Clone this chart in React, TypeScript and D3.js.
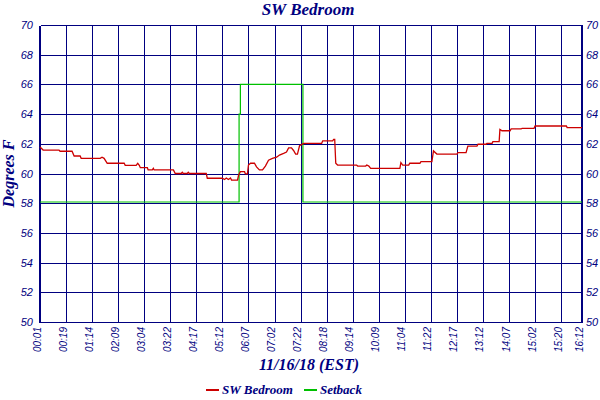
import React, { useEffect, useRef } from 'react';
import * as d3 from 'd3';

// x is in sample units (one gridline every 10 samples, last one short)
const tickSamples = [0, 10, 20, 30, 40, 50, 60, 70, 80, 90, 100, 110, 120, 130, 140, 150, 160, 170, 180, 190, 200, 208];
const tickLabels = [
  '00:01', '00:19', '01:14', '02:09', '03:04', '03:22', '04:17', '05:12', '06:07', '07:02', '07:22',
  '08:18', '09:14', '10:09', '11:04', '11:22', '12:17', '13:12', '14:07', '15:02', '15:20', '16:12',
];
const yTicks = [50, 52, 54, 56, 58, 60, 62, 64, 66, 68, 70];

const bedroomSamples = [
  0, 1.2, 7.3, 7.7, 12.3, 13.1, 15.4, 15.8, 23.1, 23.8, 24.6, 25.8, 32.3, 32.7, 36.9, 37.5, 38.1, 38.5,
  41.2, 41.5, 43.1, 43.5, 43.8, 51.2, 51.9, 54.2, 54.6, 55.0, 56.5, 56.9, 57.3, 63.8, 64.2, 70.0, 70.8,
  71.5, 72.3, 73.1, 73.5, 75.8, 76.2, 76.9, 78.5, 78.8, 79.6, 80.0, 80.8, 82.3, 83.1, 84.2, 85.4, 86.5,
  87.7, 89.2, 90.8, 91.9, 93.5, 94.6, 95.4, 96.5, 97.3, 98.1, 98.8, 99.6, 101.2, 108.1, 108.5, 112.3,
  112.7, 113.1, 113.5, 114.2, 121.5, 121.9, 125.0, 125.4, 126.2, 126.9, 138.1, 138.5, 139.2, 141.5,
  141.9, 145.8, 146.2, 150.4, 151.0, 152.3, 160.0, 160.4, 163.5, 164.2, 167.7, 168.1, 171.2, 171.5,
  173.5, 173.8, 176.2, 176.5, 177.3, 180.4, 180.8, 184.6, 185.0, 189.6, 190.0, 202.0, 202.3, 208,
];
const bedroomValues = [
  61.78, 61.58, 61.58, 61.5, 61.5, 61.18, 61.18, 61.02, 61.02, 61.1, 61.02, 60.69, 60.69, 60.55, 60.55,
  60.69, 60.55, 60.39, 60.39, 60.24, 60.24, 60.35, 60.24, 60.24, 60.0, 60.0, 60.08, 60.0, 60.0, 60.08,
  60.0, 60.0, 59.68, 59.68, 59.6, 59.7, 59.6, 59.7, 59.56, 59.56, 59.88, 60.12, 60.12, 59.98, 59.98,
  60.57, 60.69, 60.69, 60.45, 60.24, 60.24, 60.5, 60.9, 61.02, 61.1, 61.24, 61.36, 61.45, 61.72, 61.72,
  61.55, 61.31, 61.31, 61.87, 62.03, 62.03, 62.2, 62.2, 62.3, 62.3, 60.69, 60.57, 60.57, 60.5, 60.5,
  60.57, 60.5, 60.35, 60.35, 60.73, 60.57, 60.57, 60.69, 60.69, 60.8, 60.8, 61.52, 61.31, 61.31, 61.4,
  61.4, 61.85, 61.85, 61.97, 61.97, 62.03, 62.03, 62.14, 62.14, 62.97, 62.88, 62.88, 63.0, 63.0, 63.04,
  63.04, 63.2, 63.2, 63.09, 63.09,
];

const setbackSamples = [0, 76.4, 76.9, 100.9, 208];
const setbackValues = [58.08, 64, 66, 58.08, 58.08];

const navy = '#000080';
const red = '#cc0000';
const green = '#00c000';

const App: React.FC = () => {
  const svgRef = useRef<SVGSVGElement | null>(null);
  const width = 600;
  const height = 400;

  useEffect(() => {
    if (!svgRef.current) return;
    const svg = d3.select(svgRef.current);
    svg.selectAll('*').remove();

    const margin = { top: 25, right: 18, bottom: 78, left: 40 };
    const serif = '"Liberation Serif", serif';
    const sans = '"Liberation Sans", sans-serif';

    const x = d3.scaleLinear().domain([0, 208]).range([margin.left, width - margin.right]);
    const y = d3.scaleLinear().domain([50, 70]).range([height - margin.bottom, margin.top]);
    // snap grid lines to the pixel grid so they stay crisp
    const px = (v: number) => Math.round(v) + 0.5;

    svg.append('rect').attr('width', width).attr('height', height).attr('fill', 'white');

    // grid
    const grid = svg.append('g').attr('stroke', navy).attr('stroke-width', 1)
      .attr('shape-rendering', 'crispEdges');
    grid
      .selectAll('line.v')
      .data(tickSamples)
      .join('line')
      .attr('class', 'v')
      .attr('x1', (d) => px(x(d)))
      .attr('x2', (d) => px(x(d)))
      .attr('y1', px(y(70)))
      .attr('y2', px(y(50)));
    grid
      .selectAll('line.h')
      .data(yTicks)
      .join('line')
      .attr('class', 'h')
      .attr('x1', px(x(0)))
      .attr('x2', px(x(208)))
      .attr('y1', (d) => px(y(d)))
      .attr('y2', (d) => px(y(d)));

    // heavier frame sides
    svg.append('line').attr('x1', Math.round(x(0))).attr('x2', Math.round(x(0)))
      .attr('y1', px(y(70))).attr('y2', px(y(50)) + 0.5)
      .attr('stroke', navy).attr('stroke-width', 2).attr('shape-rendering', 'crispEdges');
    svg.append('line').attr('x1', Math.round(x(208))).attr('x2', Math.round(x(208)))
      .attr('y1', px(y(70))).attr('y2', px(y(50)) + 0.5)
      .attr('stroke', navy).attr('stroke-width', 2).attr('shape-rendering', 'crispEdges');

    // series
    const setLine = d3
      .line<number>()
      .x((d, i) => x(setbackSamples[i]))
      .y((d) => y(d))
      .curve(d3.curveStepAfter);
    svg.append('path').datum(setbackValues).attr('fill', 'none').attr('stroke', green)
      .attr('stroke-width', 1.2).attr('d', setLine);

    const bedLine = d3
      .line<number>()
      .x((d, i) => x(bedroomSamples[i]))
      .y((d) => y(d));
    svg.append('path').datum(bedroomValues).attr('fill', 'none').attr('stroke', red)
      .attr('stroke-width', 1.3).attr('d', bedLine);

    // y labels both sides
    svg.append('g')
      .selectAll('text')
      .data(yTicks)
      .join('text')
      .attr('x', x(0) - 7)
      .attr('y', (d) => y(d) + 4)
      .attr('text-anchor', 'end')
      .style('font', `italic 11px ${sans}`)
      .style('fill', navy)
      .text((d) => d);
    svg.append('g')
      .selectAll('text')
      .data(yTicks)
      .join('text')
      .attr('x', x(208) + 4)
      .attr('y', (d) => y(d) + 4)
      .attr('text-anchor', 'start')
      .style('font', `italic 11px ${sans}`)
      .style('fill', navy)
      .text((d) => d);

    // x labels, rotated
    svg.append('g')
      .selectAll('text')
      .data(tickSamples)
      .join('text')
      .attr('transform', (d) => `translate(${x(d) + 0.5},${y(50) + 5}) rotate(-90)`)
      .attr('text-anchor', 'end')
      .style('font', `italic 10px ${sans}`)
      .style('fill', navy)
      .text((d, i) => tickLabels[i]);

    // titles
    svg.append('text')
      .attr('x', 308)
      .attr('y', 15)
      .attr('text-anchor', 'middle')
      .style('font', `italic bold 17px ${serif}`)
      .style('fill', navy)
      .text('SW Bedroom');
    svg.append('text')
      .attr('x', 309)
      .attr('y', 370)
      .attr('text-anchor', 'middle')
      .style('font', `italic bold 16px ${serif}`)
      .style('fill', navy)
      .text('11/16/18 (EST)');
    svg.append('text')
      .attr('transform', `translate(14,${(y(50) + y(70)) / 2}) rotate(-90)`)
      .attr('text-anchor', 'middle')
      .style('font', `italic bold 16px ${serif}`)
      .style('fill', navy)
      .text('Degrees F');

    // legend
    const legend = [
      { name: 'SW Bedroom', color: red, x0: 206 },
      { name: 'Setback', color: green, x0: 304 },
    ];
    const lg = svg.append('g').selectAll('g').data(legend).join('g');
    lg.append('line')
      .attr('x1', (d) => d.x0)
      .attr('x2', (d) => d.x0 + 13)
      .attr('y1', 390)
      .attr('y2', 390)
      .attr('stroke', (d) => d.color)
      .attr('stroke-width', 2);
    lg.append('text')
      .attr('x', (d) => d.x0 + 16)
      .attr('y', 394)
      .style('font', `italic bold 13px ${serif}`)
      .style('fill', navy)
      .text((d) => d.name);
  }, []);

  return (
    <svg
      ref={svgRef}
      width={width}
      height={height}
      style={{ position: 'absolute', left: 0, top: 0, display: 'block' }}
    ></svg>
  );
};

export default App;
